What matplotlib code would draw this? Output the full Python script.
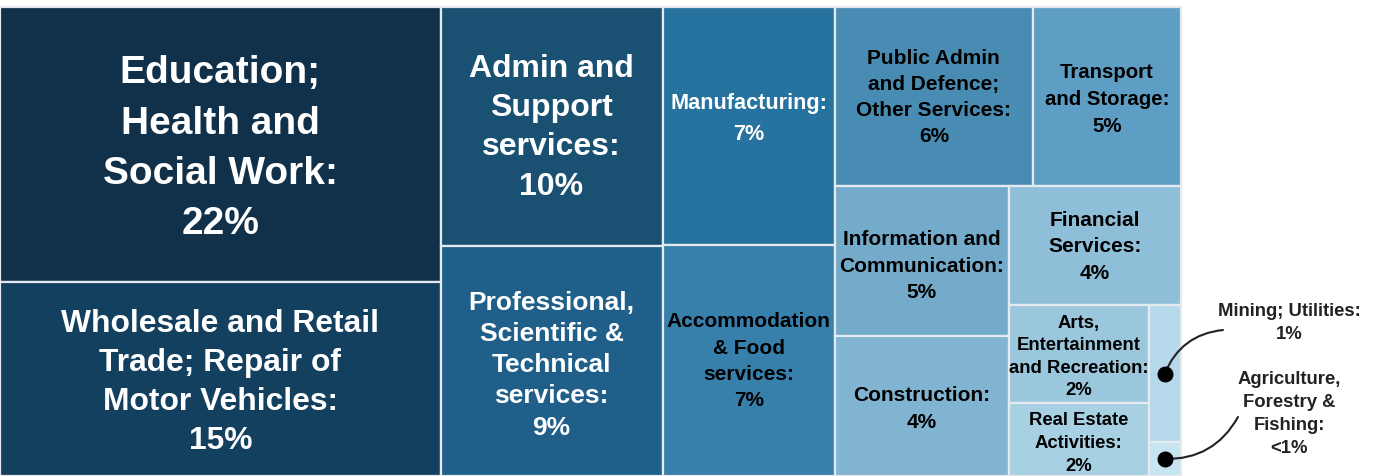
import matplotlib
matplotlib.use("Agg")
import matplotlib.pyplot as plt
from matplotlib.patches import Rectangle

# ---------------- data ----------------
names = [
    "Education;\nHealth and\nSocial Work:",
    "Wholesale and Retail\nTrade; Repair of\nMotor Vehicles:",
    "Admin and\nSupport\nservices:",
    "Professional,\nScientific &\nTechnical\nservices:",
    "Manufacturing:",
    "Accommodation\n& Food\nservices:",
    "Public Admin\nand Defence;\nOther Services:",
    "Transport\nand Storage:",
    "Information and\nCommunication:",
    "Construction:",
    "Financial\nServices:",
    "Arts,\nEntertainment\nand Recreation:",
    "Real Estate\nActivities:",
    "Mining; Utilities:",
    "Agriculture,\nForestry &\nFishing:",
]
values = [21.9, 15.4, 9.6, 9.2, 7.4, 7.2, 6.4, 4.8, 4.7, 4.4, 3.7, 2.45, 1.85, 0.8, 0.2]
pct_labels = ["22%", "15%", "10%", "9%", "7%", "7%", "6%", "5%", "5%", "4%",
              "4%", "2%", "2%", "1%", "<1%"]
colors = ["#113049", "#144060", "#1a5072", "#1f5f89", "#2773a0", "#3880ac",
          "#488cb4", "#5f9ec4", "#74abcb", "#80b4d1", "#8fbfd8", "#9bc7dd",
          "#a8d0e3", "#b5d9ea", "#c7e5f1"]

# ---------------- layout structure (nested splits) ----------------
# 'h' = children side by side, 'v' = children stacked top to bottom
tree = ('h', [
    ('v', [0, 1]),
    ('v', [2, 3]),
    ('v', [4, 5]),
    ('v', [
        ('h', [6, 7]),
        ('h', [
            ('v', [8, 9]),
            ('v', [
                10,
                ('h', [
                    ('v', [11, 12]),
                    ('v', [13, 14]),
                ]),
            ]),
        ]),
    ]),
])


def node_sum(node):
    if isinstance(node, int):
        return values[node]
    return sum(node_sum(c) for c in node[1])


rects = {}


def layout(node, x, y, w, h):
    if isinstance(node, int):
        rects[node] = (x, y, w, h)
        return
    kind, children = node
    tot = node_sum(node)
    pos = 0.0
    for c in children:
        frac = node_sum(c) / tot
        if kind == 'h':
            layout(c, x + pos * w, y, frac * w, h)
        else:
            layout(c, x, y + pos * h, w, frac * h)
        pos += frac


FIG_W, FIG_H = 1381, 477
MAP_X, MAP_Y, MAP_W, MAP_H = 0, 8, 1181, 469
layout(tree, MAP_X, MAP_Y, MAP_W, MAP_H)

fig = plt.figure(figsize=(FIG_W / 100, FIG_H / 100), dpi=100)
ax = fig.add_axes([0, 0, 1, 1])
ax.set_xlim(0, FIG_W)
ax.set_ylim(FIG_H, 0)
ax.axis('off')

font = ['Liberation Sans', 'DejaVu Sans']
fsizes = [28, 22.9, 23, 19, 15.6, 15, 15, 14.7, 15, 15, 15, 13.3, 13.3, 13.3, 13.3]
lspace = [1.51, 1.39, 1.40, 1.38, 1.6, 1.49, 1.48, 1.53, 1.5, 1.5, 1.48, 1.43, 1.44, 1.45, 1.45]
text_colors = ['white'] * 5 + ['black'] * 10
dy_off = {0: 3, 1: 2, 3: 3, 4: -8, 7: 2, 8: 4, 9: 2, 11: 2, 12: 3}

for i in range(len(values)):
    x, y, w, h = rects[i]
    ax.add_patch(Rectangle((x, y), w, h, facecolor=colors[i],
                           edgecolor='#e4eaef', linewidth=1.6))
    if i >= 13:
        continue
    ax.text(x + w / 2, y + h / 2 + dy_off.get(i, 0), names[i] + "\n" + pct_labels[i],
            ha='center', va='center', ma='center', fontsize=fsizes[i],
            fontweight='bold', color=text_colors[i], family=font,
            linespacing=lspace[i])

# callouts for the two tiny categories
callouts = {13: ((1289, 323), (1223, 331), 0.3),
            14: ((1289, 414), (1238, 418), -0.3)}
for i, (tpos, lstart, rad) in callouts.items():
    x, y, w, h = rects[i]
    cx, cy = x + w / 2, y + h / 2
    ax.text(tpos[0], tpos[1], names[i] + "\n" + pct_labels[i], ha='center',
            va='center', ma='center', fontsize=fsizes[i], fontweight='bold',
            color='#222222', family=font, linespacing=lspace[i])
    ax.annotate('', xy=(cx, cy), xytext=lstart,
                arrowprops=dict(arrowstyle='-', color='#222222', lw=1.5,
                                shrinkA=0, shrinkB=0,
                                connectionstyle=f'arc3,rad={rad}'))
    ax.plot([cx], [cy], 'o', color='black', markersize=10.5, zorder=5)

fig.savefig('out.png', dpi=100, facecolor='white')
